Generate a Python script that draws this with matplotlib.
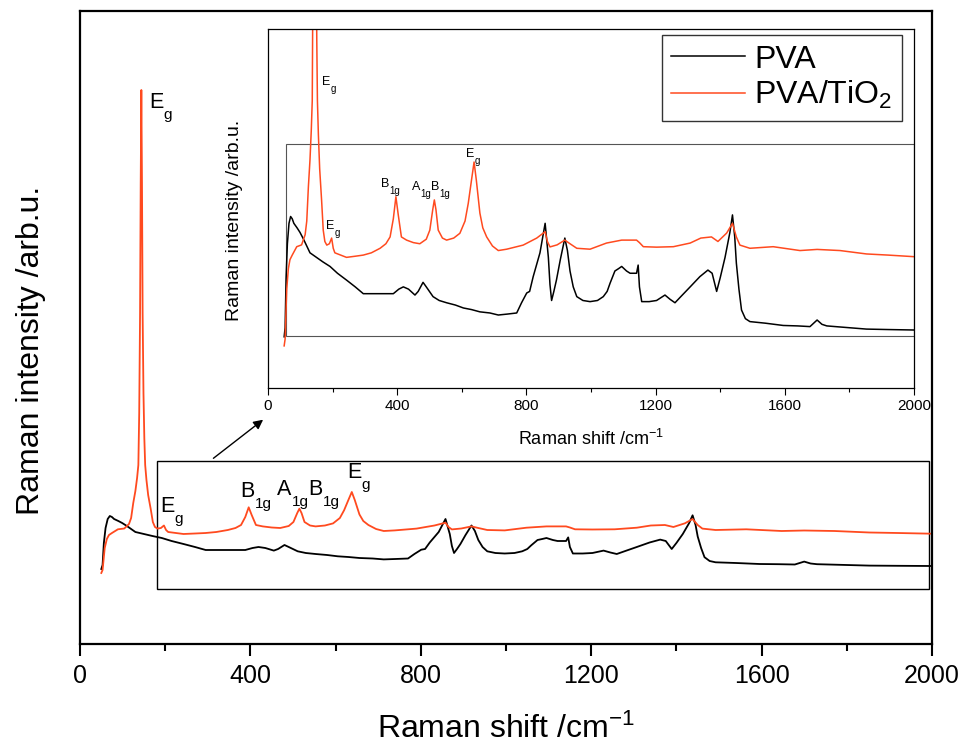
import matplotlib
matplotlib.use("Agg")
import matplotlib.pyplot as plt
from matplotlib.patches import Rectangle

plt.rcParams['font.family'] = ['Liberation Sans', 'DejaVu Sans']
plt.rcParams['mathtext.default'] = 'regular'

# spectra (Raman shift /cm-1, intensity arb.u.)
pva_x = [50, 53, 56, 60, 65, 70, 75, 80, 90, 99, 110, 120, 130, 150, 170, 192, 215, 243,
         270, 295, 320, 347, 370, 388, 405, 419, 435, 455, 465, 480, 490, 511, 530, 553,
         580, 605, 630, 656, 687, 713, 740, 770, 785, 801, 810, 821, 842, 858, 862, 868,
         873, 878, 885, 893, 905, 919, 927, 935, 945, 956, 975, 997, 1020, 1038, 1050,
         1059, 1074, 1085, 1095, 1110, 1121, 1141, 1146, 1150, 1157, 1180, 1203, 1229,
         1245, 1260, 1280, 1307, 1337, 1362, 1375, 1389, 1400, 1415, 1430, 1438, 1445,
         1450, 1458, 1466, 1478, 1492, 1540, 1595, 1640, 1678, 1700, 1715, 1730, 1800,
         1853, 1920, 2000]
pva_y = [74, 78, 100, 115, 124, 127, 126, 124, 122, 120, 117, 114, 111, 109, 107, 105, 102, 99,
         96, 93, 93, 93, 93, 93, 95, 96, 95, 92.4, 94, 98, 96, 91.7, 90, 89,
         88, 86.7, 86, 85, 84.5, 83.6, 84, 84.5, 89, 93.3, 94, 100.5, 111, 124, 118, 109,
         97, 90, 94, 99, 108, 117.5, 112, 103, 96, 91.7, 90, 89.5, 90, 91.7, 94,
         97.6, 103, 104, 105, 103, 102, 102, 105.6, 96, 89.5, 89.5, 90, 92.4,
         90.5, 89, 92, 96, 100.5, 103.4, 102, 94, 100, 109, 120, 127.7, 118,
         106.5, 95, 85.8, 82, 80.7, 80, 79, 78.8, 78.5, 81.4, 79.5, 78.8, 78,
         77.4, 77.2, 77]

tio2_x = [50, 53, 58, 63, 68, 75, 89, 104, 115, 120, 125, 130, 134, 137, 139, 141, 142.5,
          144, 145.5, 147, 149, 151, 153, 156, 160, 166, 171, 176, 182, 190, 197, 202, 207,
          225, 243, 270, 295, 320, 347, 365, 378, 388, 396, 403, 413, 429, 450, 470, 490,
          501, 510, 515, 520, 527, 540, 553, 575, 594, 610, 620, 630, 638, 645, 656, 665,
          677, 695, 713, 739, 790, 832, 858, 865, 873, 895, 919, 935, 956, 997, 1048,
          1095, 1141, 1150, 1162, 1203, 1255, 1307, 1340, 1373, 1393, 1420, 1438, 1450,
          1461, 1492, 1564, 1647, 1700, 1771, 1853, 1920, 2000]
tio2_y = [70, 73, 95, 104, 108, 110, 113.7, 114.5, 119, 125, 140, 152, 165, 178, 230, 330, 460,
          553, 460, 330, 250, 205, 178, 163, 148, 134, 121, 116, 114.4, 115, 117.5, 113, 111,
          110, 109, 109.5, 110, 111, 113, 115, 118, 126, 135.7, 128, 118, 116.6, 115.5, 115, 117,
          121, 130, 134.3, 130, 121, 117.5, 116.6, 117.5, 119.6, 125, 132.8, 143, 151, 143, 128.5, 122,
          118, 114, 112, 112.6, 114.4, 117.5, 120.3, 116, 113.6, 114.5, 116.6, 115, 113, 112.6, 115.3,
          116.6, 116.6, 115.5, 113.7, 113.5, 113.7, 115.3, 117.5, 118, 116, 119.7, 124, 118,
          114.4, 113, 113.7, 112, 112.5, 112, 110.5, 110, 109.3]

# peak labels: (base, subscript, x, y) for the main plot and the inset
main_labels = [('E', 'g', 162, 535), ('E', 'g', 188, 131), ('B', '1g', 376, 146),
               ('A', '1g', 462, 148), ('B', '1g', 535, 148), ('E', 'g', 627, 165)]
inset_labels = [('E', 'g', 167, 185), ('E', 'g', 180, 121.5), ('B', '1g', 350, 140),
                ('A', '1g', 446, 138.7), ('B', '1g', 505, 138.7), ('E', 'g', 613, 153.2)]

red = '#ff4a1f'


def peak_label(ax, base, sub, x, y, fs, sfs, dx, dy):
    ax.text(x, y, base, fontsize=fs, ha='left', va='baseline')
    ax.annotate(sub, (x, y), xytext=(dx, dy), textcoords='offset points',
                fontsize=sfs, ha='left', va='baseline')


fig = plt.figure(figsize=(9.62, 7.44), dpi=100)

# main axes
ax = fig.add_axes([80 / 962, 1 - 644 / 744, 852 / 962, 633 / 744])
ax.plot(pva_x, pva_y, color='black', lw=1.3)
ax.plot(tio2_x, tio2_y, color=red, lw=1.3)
ax.set_xlim(0, 2000)
ax.set_ylim(-1, 632)
ax.set_xticks([0, 400, 800, 1200, 1600, 2000])
ax.set_xticks([200, 600, 1000, 1400, 1800], minor=True)
ax.set_yticks([])
ax.tick_params(axis='x', which='major', direction='out', length=8.5, width=1.5,
               labelsize=18, pad=6)
ax.tick_params(axis='x', which='minor', direction='out', length=5, width=1.5)
for s in ax.spines.values():
    s.set_linewidth(1.6)
ax.set_xlabel('Raman shift /cm$^{-1}$', fontsize=23)
ax.xaxis.set_label_coords(0.5, (644 - 738) / 633)
ax.xaxis.label.set_va('baseline')
ax.set_ylabel('Raman intensity /arb.u.', fontsize=23)
ax.yaxis.set_label_coords((46 - 80) / 852, (644 - 350) / 633)

ax.add_patch(Rectangle((180, 53.7), 1813, 128.6, fill=False, edgecolor='black', lw=1.0))
ax.annotate('', xy=(435, 225), xytext=(308, 183),
            arrowprops=dict(arrowstyle='-|>', color='black', lw=1.0, mutation_scale=14))

for base, sub, x, y in main_labels:
    peak_label(ax, base, sub, x, y, 15.5, 11, 10.5, -8)

# inset
axi = fig.add_axes([268 / 962, 1 - 388 / 744, 646 / 962, 359 / 744])
axi.set_zorder(5)
axi.plot(pva_x, pva_y, color='black', lw=1.1, label='PVA')
axi.plot(tio2_x, tio2_y, color=red, lw=1.1, label='PVA/TiO$_2$')
axi.set_xlim(0, 2000)
axi.set_ylim(51.45, 209.6)
axi.set_xticks([0, 400, 800, 1200, 1600, 2000])
axi.set_xticks([200, 600, 1000, 1400, 1800], minor=True)
axi.set_yticks([])
axi.tick_params(axis='x', which='major', direction='out', length=5, width=0.8,
                labelsize=11, pad=3)
axi.tick_params(axis='x', which='minor', direction='out', length=3, width=0.8)
for s in axi.spines.values():
    s.set_linewidth(0.9)
axi.set_xlabel('Raman shift /cm$^{-1}$', fontsize=13)
axi.xaxis.set_label_coords(0.5, (388 - 445) / 359)
axi.xaxis.label.set_va('baseline')
axi.set_ylabel('Raman intensity /arb.u.', fontsize=14)
axi.yaxis.set_label_coords((243 - 268) / 646, (388 - 220) / 359)

axi.add_patch(Rectangle((56, 74.4), 1944, 84.6, fill=False, edgecolor='#555555', lw=0.8))

for base, sub, x, y in inset_labels:
    peak_label(axi, base, sub, x, y, 9, 7, 6, -5)

leg = axi.legend(loc='upper right', bbox_to_anchor=((902 - 268) / 646, (388 - 35) / 359),
                 borderaxespad=0, fontsize=23, handlelength=2.3, handletextpad=0.3,
                 borderpad=0.3, labelspacing=0.15, fancybox=False, framealpha=1)
leg.get_frame().set_edgecolor('#333333')
leg.get_frame().set_linewidth(1.0)

plt.savefig('out.png', dpi=100)
